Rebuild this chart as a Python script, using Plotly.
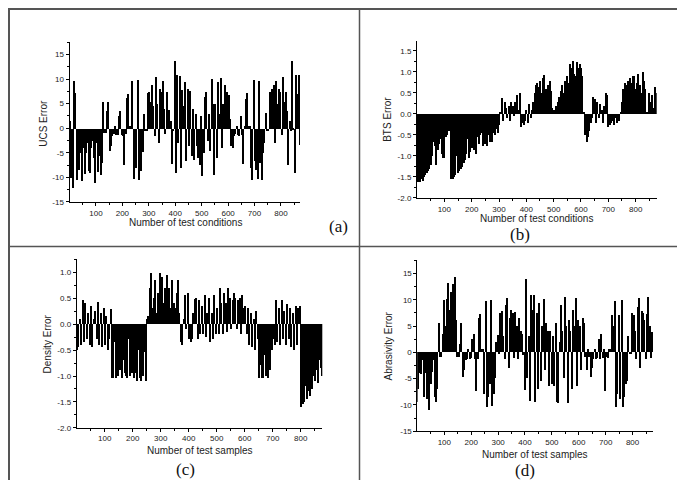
import numpy as np
import plotly.graph_objects as go

# ---------------- data (one value every 5 samples) ----------------
step = 5

ucs_error = [
    1.5, -10, -12, 9.7, 7.2, -10.4, -6, -8.5, -5, -10.6,
    -4, -9.3, -5, -3, -8.6, -9, -4, -2.5, -6, -11,
    -3, -8.8, -5.5, -9.5, -7, 5.5, -1, -1, 3.5, 5.5,
    -4.5, -3.5, -1.5, -1.2, 0.5, -1.3, -1.3, 2.5, 3.5, -1.3,
    -1.5, -7.5, -1.2, 6.2, 7.1, 0.5, 0.5, 9.7, -10.3, -7.5,
    -8, 9.8, -10.4, -6, -8.7, -4.8, 3, -0.5, -0.5, 7.2,
    7.5, 5.5, 8.8, 4.5, -1.5, 10.5, 5, -3, 8, 7.5,
    9.7, 4, -1.2, 7.5, 3.5, 3.8, 1.5, -7.3, -0.5, 13.8,
    -9, 10.8, -3, 10.7, -8, 7.8, 4.5, 9.5, -6.5, 8,
    -3.5, 7.7, -5.5, 4, -6.3, 3, -3.5, -6, -7.5, 2.5,
    -9.6, -5, 6.5, 7.5, -2.5, 3, -4.5, 10, 5, -9.5,
    5, -6, 9.4, 3, 10.3, -4, 5, 8.8, 3.5, 7.4,
    6.8, 2, -3.5, -4, -1.5, -1.2, 0.5, -1.3, -1.5, 2.5,
    -1.3, -7.3, 0.5, 6, 7.2, 0.5, 0.5, -8, -10.4, 9.8,
    -6.5, -8.5, -10.3, 9.7, -7, -10.4, -5, -3, 3.1, -0.5,
    -0.5, 7.5, 5.5, 8, 8.8, -3, 9.7, 5, 8, 7.5,
    -1.3, 10.5, 5.5, 7.5, 3.5, -7.4, 1.5, -0.5, 13.8, -0.3,
    -9, 10.8, 7, 10.8, -3.3,
]

bts_error = [
    -1.6, -1.6, -1.6, -1.55, -1.58, -1.5, -1.45, -1.4, -1.35, -1.3,
    -1.2, -1.0, -0.65, -0.75, -1.2, -0.85, -0.7, -0.6, -0.95, -1.05,
    -1.05, -0.55, -0.5, -0.4, -0.35, -1.55, -1.55, -1.5, -1.45, -1.0,
    -1.4, -1.35, -1.3, -1.25, -1.15, -1.1, -0.95, -0.6, -1.05, -0.9,
    -0.8, -0.6, -0.85, -0.95, -0.55, -0.7, -0.5, -0.45, -0.75, -0.6,
    -0.7, -0.75, -0.5, -0.65, -0.6, -0.65, -0.45, -0.5, -0.35, -0.45,
    -0.25, 0.05, 0.38, -0.15, 0.3, 0.15, -0.1, 0.2, -0.15, 0.28,
    0.2, -0.05, 0.3, 0.45, 0.1, 0.5, -0.3, -0.2, -0.25, -0.15,
    0.1, -0.2, 0.25, -0.1, 0.1, 0.3, 0.5, 0.7, 0.75, 0.65,
    0.8, 0.5, 0.85, 0.93, 0.6, 0.4, 0.7, 0.8, 0.55, 0.15,
    0.1, 0.05, 0.2, 0.3, 0.4, 0.55, 0.7, 0.5, 0.8, 0.6,
    0.9, 0.75, 1.2, 1.1, 1.27, 0.95, 0.9, 1.25, 1.1, 1.2,
    1.1, 0.9, 0.05, -0.5, -0.65, -0.55, -0.4, -0.2, -0.1, 0.4,
    0.35, -0.2, 0.3, -0.1, 0.25, 0.1, -0.2, 0.2, 0.5, 0.45,
    -0.3, -0.25, -0.2, -0.15, -0.25, -0.1, -0.2, -0.05, -0.15, 0.05,
    0.3, 0.6, 0.75, 0.7, 0.8, 0.6, 0.85, 0.75, 0.9, 0.92,
    0.6, 0.75, 0.95, 0.7, 0.5, 1.0, 0.8, 0.6, 0.05, 0.05,
    0.5, 0.3, 0.45, 0.15, 0.65, 0.5,
]

density_error = [
    -0.5, -0.45, 0.1, -0.4, 0.45, -0.35, 0.4, -0.3, 0.2, -0.4,
    0.35, -0.45, 0.1, 0.25, -0.3, 0.42, -0.4, 0.2, -0.45, 0.3,
    -0.4, 0.15, -0.5, -0.3, 0.28, -1.05, -1.05, -0.35, -1.05, -1.0,
    -0.6, -0.9, -1.05, -0.7, -0.95, -1.0, -1.05, -0.3, -1.0, -0.95,
    -0.25, -1.05, -0.95, -1.1, -0.5, -1.05, -1.1, -1.0, -0.55, -1.1,
    0.1, 0.15, 0.7, 0.98, 0.3, 0.5, 0.85, 0.2, 0.6, 0.98,
    0.3, 0.9, 0.4, 0.7, 0.95, 0.6, 0.7, 0.3, 0.85, 0.4,
    0.3, 0.6, 0.85, 0.2, -0.35, -0.4, 0.1, 0.55, -0.1, 0.6,
    -0.3, -0.35, -0.3, 0.2, 0.48, 0.5, -0.3, 0.45, -0.2, 0.35,
    -0.2, 0.55, -0.25, 0.2, 0.5, -0.35, 0.2, -0.3, 0.55, -0.2,
    0.3, -0.2, 0.7, 0.4, -0.2, 0.6, 0.4, -0.15, 0.7, 0.5,
    -0.1, 0.45, 0.6, 0.5, -0.1, 0.45, 0.5, -0.2, 0.55, 0.3,
    0.35, -0.2, 0.3, -0.4, 0.2, -0.45, 0.1, -0.5, 0.25, -0.3,
    -1.05, -0.8, -1.05, -1.05, -0.6, -1.0, -1.05, -0.5, -0.9, -0.5,
    -0.3, -0.4, 0.45, -0.35, 0.3, -0.4, 0.45, -0.3, 0.25, -0.4,
    0.38, -0.3, 0.3, -0.45, 0.2, -0.5, 0.35, -0.4, 0.3, 0.35,
    -1.6, -1.55, -1.5, -1.2, -1.45, -1.3, -1.4, -1.2, -1.25, -1.0,
    -1.1, -0.9, -1.15, -0.7, -0.85, -1.0,
]

abrasivity_error = [
    -9.5, -7, -4, -4.2, -1.5, -8.5, -4, -9, -3.5, -11,
    -6, -3.8, -1.5, -8.5, -9.5, -7, 5.5, -1, -1, 3.5,
    9.8, 5, 10, 13.1, 8, 11.5, 7, 13, 14.3, 6,
    -1, -1, 1.5, 5.5, -4.8, -3.5, -1.5, -1.3, 0.5, -1.3,
    -1.2, 2.5, 3.5, -1.3, -7.5, -1.3, 6.5, 7.2, 0.5, 0.5,
    -8, 9.7, -10.5, -8.5, -6, 9.8, -10.3, -8, -5, 2,
    3.2, -0.2, 7.5, 7.8, 3, -1.3, 9, 10.3, -3, 6.5,
    8, 7.5, -1.2, 7.6, 5, -1.3, 6.5, 4, 3.5, -0.5,
    -7.3, 13.8, -5, 3, -9.3, 10.9, 8, 10.8, -9.5, 7.5,
    -7, 9.3, -5.5, 5, 10, -3.5, 5.5, 4, -6.5, 4,
    -6, 3, -6.5, 5.5, -9.5, -9.6, 2, 9, 4, -5,
    10.5, 5, -9.7, 6, 4, -7, 8, 5, 10.3, -6.5,
    6, 5, -3.5, 6.5, 5.5, -1, -3.5, 0.5, -1, -4.8,
    -3, -1.3, 0.5, -1.3, -1.2, 2.5, -1.3, 3.5, -1.2, 0.5,
    -7.5, -1, -1.2, 0.5, 0.5, 7, 5, 9.7, -10.5, -8,
    7, -9, 9.8, -10.4, -8.5, -6, -5.5, 3, -0.3, -0.3,
    7.5, 7, 4, -1.3, 8.5, 10.3, -3, 7.8, 7.5, 6,
    -1.3, 7.2, 10.4, 5, -1.2, 3.8,
]

x_tick_vals = [100, 200, 300, 400, 500, 600, 700, 800]
x_tick_text = ["100", "200", "300", "400", "500", "600", "700", "800"]

big_tick_vals = [15, 10, 5, 0, -5, -10, -15]
big_tick_text = ["15", "10", "5", "0", "-5", "-10", "-15"]
bts_tick_vals = [1.5, 1.0, 0.5, 0.0, -0.5, -1.0, -1.5, -2.0]
bts_tick_text = ["1.5", "1.0", "0.5", "0.0", "-0.5", "-1.0", "-1.5", "-2.0"]
den_tick_vals = [1.0, 0.5, 0.0, -0.5, -1.0, -1.5, -2.0]
den_tick_text = ["1.0", "0.5", "0.0", "-0.5", "-1.0", "-1.5", "-2.0"]

y_titles = ["UCS Error", "BTS Error", "Density Error", "Abrasivity Error"]
x_titles = ["Number of test conditions", "Number of test conditions",
            "Number of test samples", "Number of test samples"]
panel_labels = ["(a)", "(b)", "(c)", "(d)"]

# ---------------- layout ----------------
W, H = 685, 480


def fx(px):
    return px / W


def fy(py):
    return 1 - py / H


panels = [
    dict(vals=ucs_error, xdom=[61.5, 292], ydom=[196, 34], xr=[0, 872], yr=[-15, 17.6],
         tv=big_tick_vals, tt=big_tick_text, minor=2.5,
         ytitle=(36, 117), xtitle=(177, 217), label=(330, 221)),
    dict(vals=bts_error, xdom=[409, 648.7], ydom=[192, 33], xr=[0, 877], yr=[-2, 1.74],
         tv=bts_tick_vals, tt=bts_tick_text, minor=0.25,
         ytitle=(380, 113), xtitle=(528.7, 213), label=(512, 229)),
    dict(vals=density_error, xdom=[68.7, 314.3], ydom=[424.3, 254], xr=[0, 877], yr=[-2, 1.25],
         tv=den_tick_vals, tt=den_tick_text, minor=0.25,
         ytitle=(39, 340), xtitle=(191.7, 446.7), label=(177, 466)),
    dict(vals=abrasivity_error, xdom=[409.4, 645.3], ydom=[427.7, 255], xr=[0, 877], yr=[-15, 17.5],
         tv=big_tick_vals, tt=big_tick_text, minor=2.5,
         ytitle=(380.3, 341.7), xtitle=(527, 450.7), label=(517, 467)),
]

tick_font = dict(family="Liberation Sans, Arial, sans-serif", size=8, color="#222")
title_font = dict(family="Liberation Sans, Arial, sans-serif", size=10, color="#222")
label_font = dict(family="Liberation Serif, Times New Roman, serif", size=17, color="#111")

fig = go.Figure()
layout = dict(width=W, height=H, margin=dict(l=0, r=0, t=0, b=0),
              paper_bgcolor="white", plot_bgcolor="white", showlegend=False,
              bargap=0, annotations=[], shapes=[])

for k, p in enumerate(panels):
    n = k + 1
    xa = "x" if n == 1 else f"x{n}"
    ya = "y" if n == 1 else f"y{n}"
    vals = np.array(p["vals"], dtype=float)
    xs = 1 + step * np.arange(len(vals))
    fig.add_trace(go.Bar(x=xs, y=vals, width=step, xaxis=xa, yaxis=ya,
                         marker=dict(color="black", line=dict(width=0))))
    ymin, ymax = p["yr"]
    minor_y = list(np.arange(ymin, ymax + 1e-9, p["minor"]))
    layout["xaxis" if n == 1 else f"xaxis{n}"] = dict(
        domain=[fx(p["xdom"][0]), fx(p["xdom"][1])], range=p["xr"], anchor=ya,
        showgrid=False, zeroline=False, showline=True, linecolor="black", linewidth=1,
        ticks="outside", ticklen=3, tickwidth=1, tickcolor="black",
        tickmode="array", tickvals=x_tick_vals, ticktext=x_tick_text, tickfont=tick_font,
        minor=dict(tickmode="array", tickvals=list(range(50, 900, 50)), ticks="outside",
                   ticklen=2, tickcolor="black"))
    layout["yaxis" if n == 1 else f"yaxis{n}"] = dict(
        domain=[fy(p["ydom"][0]), fy(p["ydom"][1])], range=p["yr"], anchor=xa,
        showgrid=False, zeroline=False, showline=True, linecolor="black", linewidth=1,
        ticks="outside", ticklen=3, tickwidth=1, tickcolor="black",
        tickmode="array", tickvals=p["tv"], ticktext=p["tt"], tickfont=tick_font,
        minor=dict(tickmode="array", tickvals=minor_y, ticks="outside",
                   ticklen=2, tickcolor="black"))
    layout["annotations"].append(dict(
        text=y_titles[k], x=fx(p["ytitle"][0]), y=fy(p["ytitle"][1]), xref="paper", yref="paper",
        textangle=-90, showarrow=False, font=title_font, xanchor="center", yanchor="middle"))
    layout["annotations"].append(dict(
        text=x_titles[k], x=fx(p["xtitle"][0]), y=fy(p["xtitle"][1]), xref="paper", yref="paper",
        showarrow=False, font=title_font, xanchor="center", yanchor="middle"))
    layout["annotations"].append(dict(
        text=panel_labels[k], x=fx(p["label"][0]), y=fy(p["label"][1]), xref="paper", yref="paper",
        showarrow=False, font=label_font, xanchor="center", yanchor="middle"))

frame = dict(color="#555", width=2)
layout["shapes"] = [
    dict(type="rect", xref="paper", yref="paper", x0=fx(1), x1=fx(683.5), y0=fy(478.5), y1=fy(1),
         line=frame),
    dict(type="line", xref="paper", yref="paper", x0=fx(351.5), x1=fx(351.5), y0=fy(478.5), y1=fy(1),
         line=dict(color="#555", width=1.5)),
    dict(type="line", xref="paper", yref="paper", x0=fx(1), x1=fx(683.5), y0=fy(241), y1=fy(241),
         line=dict(color="#555", width=1.5)),
]

fig.update_layout(**layout)
fig.write_html("out.html")
